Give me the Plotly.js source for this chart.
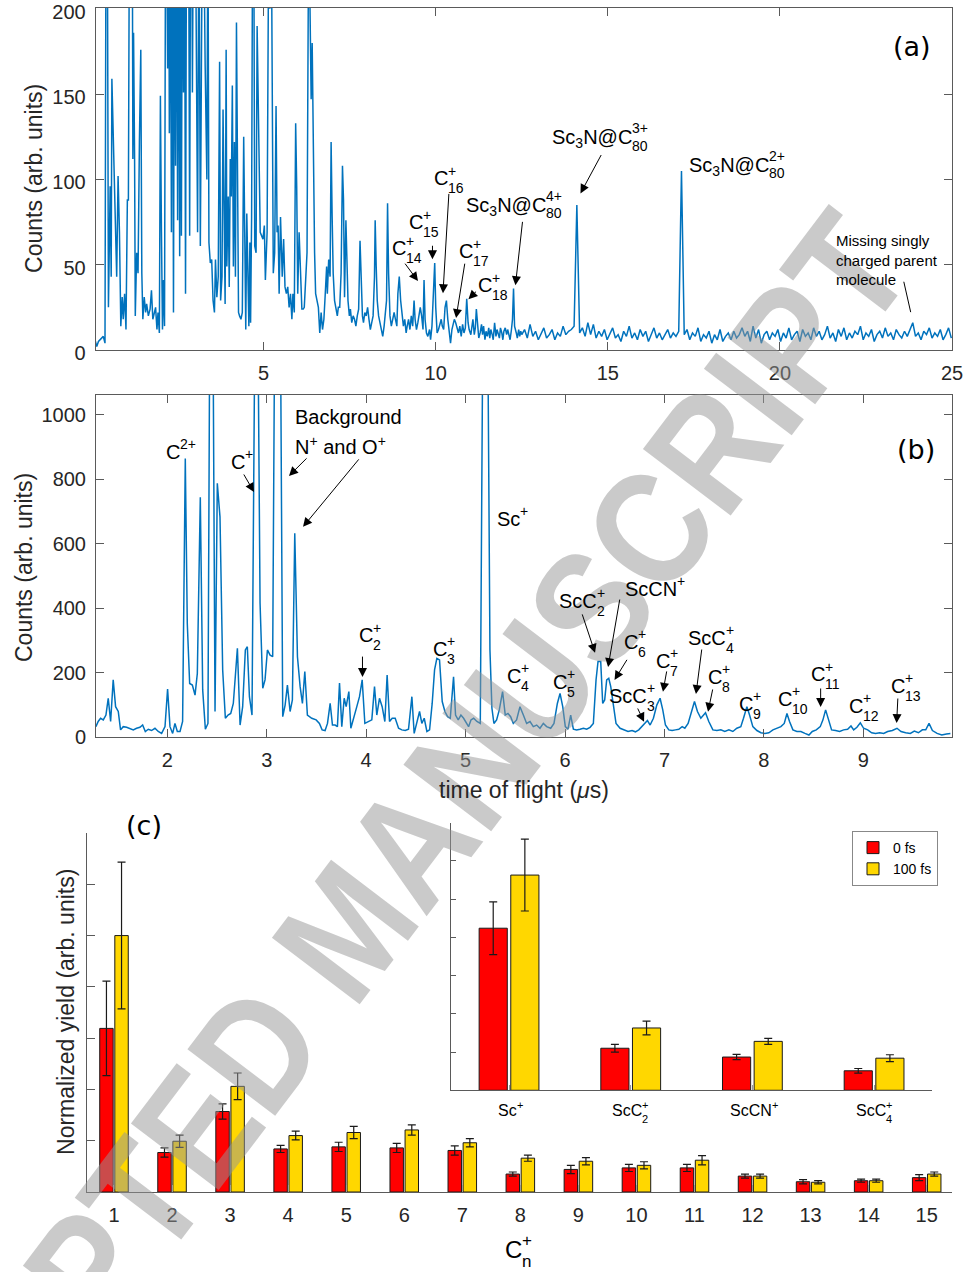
<!DOCTYPE html>
<html>
<head>
<meta charset="utf-8">
<script src="https://cdn.plot.ly/plotly-3.0.1.min.js"></script>
<style>
html,body{margin:0;padding:0;background:#ffffff;}
#chart{width:966px;height:1272px;}
</style>
</head>
<body>
<div id="chart"></div>
<script>
// ---------------- DATA ----------------
// Panel (a): time of flight (us) vs counts, full range
const spectrumA = [
[0.10,6],[0.15,2],[0.20,5],[0.24,6],[0.29,7],[0.34,8],[0.39,4],[0.42,260],[0.46,240],[0.49,25],[0.54,96],[0.57,43],[0.59,159],[0.65,108],[0.69,59],[0.73,43],[0.77,102],[0.81,69],[0.85,14],[0.89,31],[0.92,18],[0.96,33],[1.00,12],[1.04,88],[1.07,88],[1.10,260],[1.14,230],[1.18,280],[1.20,112],[1.22,186],[1.25,112],[1.27,20],[1.31,57],[1.35,45],[1.39,122],[1.43,176],[1.46,45],[1.49,18],[1.53,31],[1.57,22],[1.60,27],[1.65,20],[1.70,24],[1.74,35],[1.78,18],[1.82,22],[1.86,25],[1.90,12],[1.93,22],[1.97,10],
[2.00,149],[2.03,69],[2.06,12],[2.09,41],[2.12,14],[2.15,260],[2.18,250],[2.21,165],[2.24,270],[2.26,127],[2.29,260],[2.32,69],[2.35,280],[2.38,22],[2.41,260],[2.44,108],[2.47,270],[2.50,76],[2.53,260],[2.56,55],[2.59,250],[2.61,67],[2.64,270],[2.67,151],[2.70,260],[2.73,33],[2.76,270],[2.79,260],[2.82,250],[2.85,67],[2.88,280],[2.91,260],[2.93,151],[2.96,270],[2.99,260],[3.02,250],[3.08,69],[3.12,270],[3.16,61],[3.19,161],[3.22,260],[3.26,250],[3.30,167],[3.35,100],[3.38,260],[3.41,63],[3.45,51],[3.49,53],[3.53,29],[3.57,22],[3.60,53],[3.64,31],[3.68,43],[3.72,169],[3.75,29],[3.79,43],[3.82,141],[3.85,65],[3.88,27],[3.91,176],[3.93,49],[3.97,90],
[4.00,37],[4.03,112],[4.06,90],[4.09,155],[4.12,49],[4.15,122],[4.18,43],[4.21,192],[4.24,73],[4.27,22],[4.30,20],[4.34,18],[4.38,22],[4.42,125],[4.45,69],[4.48,12],[4.51,80],[4.54,49],[4.57,14],[4.60,63],[4.62,16],[4.65,78],[4.68,260],[4.71,270],[4.74,61],[4.78,57],[4.81,190],[4.90,69],[4.98,65],
[5.02,73],[5.05,41],[5.10,69],[5.15,260],[5.18,200],[5.22,260],[5.28,45],[5.32,57],[5.36,143],[5.39,69],[5.42,73],[5.45,33],[5.49,78],[5.51,65],[5.54,43],[5.58,65],[5.62,37],[5.66,33],[5.70,37],[5.74,25],[5.78,33],[5.82,18],[5.85,33],[5.89,22],[5.93,133],[5.96,96],[5.99,33],
[6.03,69],[6.07,43],[6.11,24],[6.15,24],[6.18,25],[6.22,41],[6.26,57],[6.31,260],[6.35,180],[6.38,147],[6.41,180],[6.44,104],[6.48,57],[6.51,33],[6.55,29],[6.59,25],[6.63,10],[6.67,22],[6.71,12],[6.75,18],[6.79,33],[6.83,49],[6.85,33],[6.89,53],[6.93,43],[6.96,122],[6.99,78],
[7.02,45],[7.06,29],[7.10,24],[7.14,20],[7.17,25],[7.21,25],[7.25,45],[7.29,108],[7.32,88],[7.35,31],[7.39,76],[7.42,49],[7.45,29],[7.49,20],[7.52,24],[7.56,16],[7.60,20],[7.64,18],[7.68,14],[7.72,20],[7.76,24],[7.80,64],[7.83,39],[7.87,20],[7.90,16],[7.94,22],[7.98,20],
[8.02,25],[8.06,18],[8.10,12],[8.14,16],[8.18,20],[8.22,43],[8.24,76],[8.27,49],[8.30,29],[8.34,20],[8.38,16],[8.42,10],[8.46,8],[8.50,14],[8.53,22],[8.57,29],[8.60,86],[8.63,45],[8.67,20],[8.71,14],[8.75,18],[8.79,22],[8.83,18],[8.87,14],[8.90,33],[8.94,43],[8.98,29],
[9.02,20],[9.06,14],[9.10,18],[9.14,10],[9.17,14],[9.21,18],[9.25,12],[9.29,20],[9.33,14],[9.37,29],[9.40,18],[9.44,12],[9.48,16],[9.51,20],[9.55,25],[9.59,20],[9.63,12],[9.66,41],[9.69,18],[9.73,10],[9.77,8],[9.82,12],[9.85,6],[9.89,14],[9.93,29],[9.97,51],
[10.00,25],[10.04,10],[10.08,12],[10.12,16],[10.16,18],[10.19,14],[10.23,12],[10.27,25],[10.31,29],[10.35,18],[10.39,10],[10.43,4],[10.47,12],[10.50,14],[10.54,18],[10.58,16],[10.62,12],[10.66,10],[10.70,14],
[10.74,8],[10.78,15],[10.82,10],[10.86,13],[10.90,30],[10.94,16],[10.97,12],[11.02,9],[11.05,14],[11.08,18],[11.12,9],[11.15,13],[11.18,24],[11.22,12],[11.25,7],[11.29,10],[11.33,15],[11.36,9],[11.39,14],[11.43,6],[11.46,11],[11.50,8],[11.54,13],[11.57,7],[11.60,12],[11.64,9],[11.67,6],[11.71,16],[11.75,8],[11.78,12],[11.81,10],[11.85,7],[11.88,13],[11.92,10],[11.95,6],[11.98,11],
[12.02,13],[12.06,9],[12.09,12],[12.13,8],[12.16,6],[12.20,12],[12.23,18],[12.26,36],[12.29,14],[12.34,10],[12.37,7],[12.41,12],[12.44,8],[12.47,11],[12.50,9]
];
// Panel (a) tail: evenly sampled from 12.50 us in 0.08 us steps
const tailStartA = 12.5;
const tailStepA = 0.08;
const tailCountsA = [
9,12,7,15,8,11,6,10,13,7, 9,12,6,10,8,14,9,11,12,14, 85,10,13,8,16,9,15,7,11,8, 12,6,10,13,7,9,5,11,8,14,
7,10,6,12,8,11,5,9,13,7, 10,6,9,12,7,10,8,11,105,9, 12,6,10,8,13,5,9,7,11,4, 9,6,12,5,8,10,6,11,7,9,
13,8,11,5,14,7,12,4,9,11, 6,10,8,12,5,10,7,13,6,9, 11,5,12,8,10,6,13,8,11,6, 9,14,7,10,5,12,8,13,6,10,
7,11,9,14,6,10,8,12,5,9, 11,7,13,8,10,6,12,9,7,11, 8,12,16,8,10,6,11,9,13,7, 10,8,12,6,9,13,7
];

// Panel (b): time of flight (us) vs counts, zoom 1.3 - 9.9 us
const spectrumB = [
[1.282,33],[1.305,49],[1.329,59],[1.356,54],[1.383,69],[1.406,121],[1.430,49],[1.456,178],[1.480,95],[1.507,80],[1.530,23],[1.557,33],[1.591,31],[1.624,28],[1.658,23],[1.691,28],[1.725,31],[1.752,38],[1.779,18],[1.809,25],[1.842,21],[1.876,28],[1.909,18],[1.943,12],[1.977,33],
[2.003,150],[2.027,33],[2.054,12],[2.077,43],[2.101,18],[2.128,18],[2.154,49],[2.181,865],[2.201,354],[2.225,167],[2.252,162],[2.279,131],[2.302,198],[2.332,745],[2.356,147],[2.383,25],[2.409,43],[2.430,1500],[2.456,1500],[2.480,80],[2.503,788],[2.530,684],[2.557,209],[2.584,59],[2.611,69],[2.638,74],[2.664,105],[2.705,276],[2.732,38],[2.758,95],[2.785,271],[2.805,281],[2.826,126],[2.852,69],[2.886,1500],[2.906,1500],[2.933,416],[2.960,152],[2.983,178],
[3.007,271],[3.034,255],[3.060,250],[3.084,1500],[3.107,1500],[3.134,1500],[3.161,64],[3.185,100],[3.208,162],[3.235,80],[3.258,116],[3.282,633],[3.309,250],[3.336,157],[3.359,105],[3.383,204],[3.409,69],[3.453,59],[3.497,54],[3.530,43],[3.557,23],[3.587,21],[3.611,43],[3.638,105],[3.661,38],[3.688,38],[3.711,33],[3.732,168],[3.755,33],[3.779,121],[3.799,95],[3.826,142],[3.846,28],[3.872,54],[3.906,95],[3.933,126],[3.960,178],[3.987,43],
[4.023,49],[4.057,54],[4.084,157],[4.107,69],[4.134,121],[4.161,95],[4.188,49],[4.211,193],[4.235,49],[4.262,59],[4.292,59],[4.326,28],[4.359,23],[4.393,21],[4.426,25],[4.460,126],[4.483,12],[4.510,43],[4.537,80],[4.560,43],[4.584,59],[4.611,18],[4.638,23],[4.664,105],[4.688,209],[4.711,245],[4.738,240],[4.765,111],[4.792,80],[4.819,64],[4.846,59],[4.879,188],[4.899,69],[4.926,54],[4.953,69],[4.980,59],
[5.007,43],[5.030,33],[5.054,54],[5.081,59],[5.114,49],[5.148,43],[5.178,1500],[5.218,1500],[5.245,271],[5.265,90],[5.285,43],[5.312,54],[5.339,85],[5.372,142],[5.399,69],[5.426,74],[5.453,64],[5.480,43],[5.513,54],[5.547,95],[5.581,69],[5.614,43],[5.648,49],[5.681,33],[5.715,38],[5.748,28],[5.782,43],[5.815,33],[5.856,28],[5.889,43],[5.923,105],[5.950,136],[5.977,95],
[6.003,33],[6.030,25],[6.057,69],[6.084,25],[6.117,23],[6.151,25],[6.185,28],[6.218,25],[6.252,31],[6.285,43],[6.312,178],[6.332,235],[6.359,235],[6.379,105],[6.399,116],[6.419,178],[6.440,183],[6.460,157],[6.487,95],[6.513,43],[6.554,28],[6.594,23],[6.634,18],[6.674,21],[6.708,17],[6.742,23],[6.775,33],[6.802,43],[6.829,52],[6.856,38],[6.889,59],[6.923,100],[6.956,121],[6.983,85],
[7.010,38],[7.044,23],[7.077,21],[7.111,23],[7.144,25],[7.178,33],[7.205,28],[7.238,43],[7.272,80],[7.302,111],[7.332,80],[7.366,59],[7.413,76],[7.446,49],[7.487,23],[7.527,21],[7.567,23],[7.607,18],[7.648,23],[7.688,18],[7.728,28],[7.768,33],[7.795,59],[7.829,95],[7.856,69],[7.889,33],[7.930,21],[7.970,14],
[8.010,12],[8.050,14],[8.091,23],[8.131,28],[8.171,33],[8.205,43],[8.232,74],[8.258,49],[8.292,23],[8.332,18],[8.372,18],[8.413,12],[8.453,7],[8.487,18],[8.527,23],[8.567,33],[8.594,54],[8.621,85],[8.648,54],[8.681,23],[8.721,21],[8.762,18],[8.802,23],[8.842,25],[8.876,35],[8.903,23],[8.936,31],[8.970,45],
[9.003,28],[9.044,23],[9.084,14],[9.124,12],[9.164,14],[9.205,12],[9.245,18],[9.292,21],[9.339,28],[9.379,18],[9.426,14],[9.473,12],[9.513,19],[9.554,14],[9.594,23],[9.628,23],[9.661,43],[9.695,21],[9.742,12],[9.789,7],[9.836,10],[9.876,12]
];

// Panel (c): normalized yields of C_n+ fragments
const clusterSize = [1,2,3,4,5,6,7,8,9,10,11,12,13,14,15];
const yield0fs   = [3.19,0.77,1.57,0.84,0.88,0.86,0.81,0.35,0.44,0.47,0.47,0.31,0.20,0.22,0.28];
const err0fs     = [0.92,0.09,0.15,0.07,0.09,0.09,0.09,0.04,0.08,0.07,0.07,0.04,0.04,0.03,0.06];
const yield100fs = [5.00,0.99,2.06,1.10,1.16,1.21,0.96,0.66,0.60,0.52,0.62,0.31,0.19,0.22,0.35];
const err100fs   = [1.43,0.12,0.26,0.085,0.12,0.10,0.08,0.06,0.07,0.07,0.09,0.04,0.03,0.03,0.04];

// Inset: Sc-containing fragments
const ionSpecies    = ['Sc+','ScC2+','ScCN+','ScC4+'];
const ionYield0fs   = [4.24,1.10,0.87,0.51];
const ionErr0fs     = [0.69,0.10,0.07,0.06];
const ionYield100fs = [5.63,1.63,1.28,0.84];
const ionErr100fs   = [0.94,0.18,0.08,0.09];

const seriesNames = ['0 fs','100 fs'];

// ---------------- STYLE ----------------
const FONT = 'Liberation Sans, Arial, Helvetica, sans-serif';
const PANEL_FONT = 'DejaVu Sans, Verdana, sans-serif';
const INK = '#000000';
const AXC = '#5a5a5a';
const TXT = '#262626';
const BLUE = '#0072BD';
const RED = '#FF0000';
const GOLD = '#FFD700';

function axis(o) {
  return Object.assign({
    showline: true, linecolor: AXC, linewidth: 1,
    ticks: 'inside', ticklen: 8, tickwidth: 1, tickcolor: AXC,
    showgrid: false, zeroline: false, fixedrange: true, ticklabeloverflow: 'allow',
    tickfont: {family: FONT, size: 20, color: TXT}
  }, o);
}

// ---------------- TRACES ----------------
const traces = [];
traces.push({
  type: 'scatter', mode: 'lines', xaxis: 'x', yaxis: 'y', showlegend: false,
  x: spectrumA.map(p => p[0]), y: spectrumA.map(p => p[1]),
  line: {color: BLUE, width: 1.5}, hoverinfo: 'skip'
});
traces.push({
  type: 'scatter', mode: 'lines', xaxis: 'x', yaxis: 'y', showlegend: false,
  x0: tailStartA, dx: tailStepA, y: tailCountsA,
  line: {color: BLUE, width: 1.5}, hoverinfo: 'skip'
});
traces.push({
  type: 'scatter', mode: 'lines', xaxis: 'x2', yaxis: 'y2', showlegend: false,
  x: spectrumB.map(p => p[0]), y: spectrumB.map(p => p[1]),
  line: {color: BLUE, width: 1.5}, hoverinfo: 'skip'
});

function barTrace(x, y, err, color, name, xa, ya, legend, cap) {
  return {
    type: 'bar', x: x, y: y, name: name, xaxis: xa, yaxis: ya, showlegend: legend,
    marker: {color: color, line: {color: '#1a1a1a', width: 1}},
    error_y: {type: 'data', array: err, visible: true, color: '#1a1a1a', thickness: 1.2, width: cap},
    hoverinfo: 'skip'
  };
}
traces.push(barTrace(clusterSize, yield0fs, err0fs, RED, seriesNames[0], 'x3', 'y3', false, 4));
traces.push(barTrace(clusterSize, yield100fs, err100fs, GOLD, seriesNames[1], 'x3', 'y3', false, 4));
const ionPos = ionSpecies.map((s, i) => i + 1);
traces.push(barTrace(ionPos, ionYield0fs, ionErr0fs, RED, seriesNames[0], 'x4', 'y4', true, 4));
traces.push(barTrace(ionPos, ionYield100fs, ionErr100fs, GOLD, seriesNames[1], 'x4', 'y4', true, 4));

// ---------------- ANNOTATIONS ----------------
function stacked(xref, yref, x, y, base, sup, sub, fs, dy) {
  dy = dy || 0;
  const sf = Math.round(fs * 0.7);
  const common = {xref: xref, yref: yref, x: x, y: y, showarrow: false, borderpad: 0, borderwidth: 0, yanchor: 'middle'};
  const out = [Object.assign({}, common, {text: base, xanchor: 'right', yshift: dy, font: {family: FONT, size: fs, color: INK}})];
  if (sup) out.push(Object.assign({}, common, {text: sup, xanchor: 'left', yshift: fs * 0.38, font: {family: FONT, size: sf, color: INK}}));
  if (sub) out.push(Object.assign({}, common, {text: sub, xanchor: 'left', yshift: -fs * 0.5, font: {family: FONT, size: sf, color: INK}}));
  return out;
}
function arrow(xref, yref, hx, hy, tx, ty, head) {
  return {xref: xref, yref: yref, axref: xref, ayref: yref, x: hx, y: hy, ax: tx, ay: ty,
    text: '', showarrow: true, arrowhead: head === undefined ? 2 : head, arrowsize: 1.8,
    arrowwidth: 1, arrowcolor: INK, standoff: 0, startstandoff: 0};
}
function plain(xref, yref, x, y, text, fs, opts) {
  return Object.assign({xref: xref, yref: yref, x: x, y: y, text: text, showarrow: false,
    borderpad: 0, borderwidth: 0, xanchor: 'center', yanchor: 'middle',
    font: {family: FONT, size: fs, color: INK}}, opts || {});
}

let ann = [];
// watermark (index 0, drawn first so labels stay on top)
ann.push(plain('paper', 'paper', 0.360, 0.2697, '<b>ACCEPTED MANUSCRIPT</b>', 160,
  {textangle: -52.8, font: {family: FONT, size: 160, color: 'rgba(150,150,150,0.5)'}}));

// panel (a) labels
const SC3N = 'Sc<sub>3</sub>N@C';
[
  [9.135, 59.6, 'C', '+', '14', 0], [9.63, 74.9, 'C', '+', '15', 0], [10.355, 100.6, 'C', '+', '16', 0],
  [13.20, 86, SC3N, '4+', '80', -3], [11.08, 57.9, 'C', '+', '17', 0], [11.63, 38, 'C', '+', '18', 0],
  [15.70, 125.7, SC3N, '3+', '80', -3], [19.68, 109.4, SC3N, '2+', '80', -3]
].forEach(l => { ann = ann.concat(stacked('x', 'y', l[0], l[1], l[2], l[3], l[4], 20, l[5])); });
[
  [9.484, 40.4, 9.077, 51.5], [9.905, 53.2, 9.905, 62], [10.21, 33.3, 10.384, 92.4],
  [12.316, 38, 12.525, 76], [10.59, 18.7, 10.85, 51.5], [10.95, 29.8, 11.215, 35.1],
  [14.205, 91.8, 14.83, 115.2]
].forEach(a => ann.push(arrow('x', 'y', a[0], a[1], a[2], a[3])));
ann.push(arrow('x', 'y', 23.80, 22.2, 23.59, 40.9, 0));
ann.push(plain('x', 'y', 21.63, 52.6, 'Missing singly<br>charged parent<br>molecule', 15,
  {xanchor: 'left', align: 'left', font: {family: FONT, size: 15, color: INK}}));
ann.push(plain('paper', 'paper', 0.944, 0.9638, '(a)', 27, {font: {family: PANEL_FONT, size: 27, color: INK}}));
ann.push(plain('paper', 'paper', 0.0352, 0.8593, 'Counts (arb. units)', 23, {textangle: -90, font: {family: FONT, size: 23, color: TXT}}));

// panel (b) labels
[
  [2.128, 885, 'C', '2+', ''], [2.781, 854, 'C', '+', ''], [4.069, 317, 'C', '+', '2'], [4.813, 274, 'C', '+', '3'],
  [5.548, 677, 'Sc', '+', ''], [5.558, 190, 'C', '+', '4'], [6.020, 172, 'C', '+', '5'], [6.322, 423, 'ScC', '+', '2'],
  [7.126, 460, 'ScCN', '+', ''], [6.734, 296, 'C', '+', '6'], [6.825, 128, 'ScC', '+', '3'], [7.056, 237, 'C', '+', '7'],
  [7.619, 308, 'ScC', '+', '4'], [7.579, 187, 'C', '+', '8'], [7.890, 103, 'C', '+', '9'], [8.282, 119, 'C', '+', '10'],
  [8.614, 196, 'C', '+', '11'], [8.997, 97, 'C', '+', '12'], [9.420, 159, 'C', '+', '13']
].forEach(l => { ann = ann.concat(stacked('x2', 'y2', l[0], l[1], l[2], l[3], l[4], 20, 0)); });
ann.push(plain('x2', 'y2', 3.284, 994, 'Background', 20, {xanchor: 'left'}));
ann.push(plain('x2', 'y2', 3.284, 905, 'N<sup>+</sup> and O<sup>+</sup>', 20, {xanchor: 'left'}));
[
  [2.872, 761, 2.761, 820], [3.224, 811, 3.416, 870], [3.365, 653, 3.938, 867], [3.963, 187, 3.963, 255],
  [6.302, 262, 6.168, 386], [6.433, 218, 6.553, 432], [6.498, 178, 6.632, 245], [6.795, 48, 6.724, 94],
  [6.985, 141, 7.025, 209], [7.317, 134, 7.377, 277], [7.438, 79, 7.488, 153], [8.571, 94, 8.571, 156],
  [9.335, 44, 9.348, 125]
].forEach(a => ann.push(arrow('x2', 'y2', a[0], a[1], a[2], a[3])));
ann.push(plain('paper', 'paper', 0.948, 0.647, '(b)', 27, {font: {family: PANEL_FONT, size: 27, color: INK}}));
ann.push(plain('paper', 'paper', 0.0248, 0.5542, 'Counts (arb. units)', 23, {textangle: -90, font: {family: FONT, size: 23, color: TXT}}));
ann.push(plain('paper', 'paper', 0.5424, 0.3789, 'time of flight (<i>\u03bc</i>s)', 23, {font: {family: FONT, size: 23, color: TXT}}));

// panel (c) labels
ann.push(plain('paper', 'paper', 0.149, 0.3514, '(c)', 27, {font: {family: PANEL_FONT, size: 27, color: INK}}));
ann.push(plain('paper', 'paper', 0.0683, 0.2044, 'Normalized yield (arb. units)', 23, {textangle: -90, font: {family: FONT, size: 23, color: TXT}}));
ann = ann.concat(stacked('x3', 'paper', 8.03, 0.0173, 'C', '+', 'n', 24, 0));
[
  [1.066, 'Sc', '+', ''], [2.093, 'ScC', '+', '2'], [3.161, 'ScCN', '+', ''], [4.098, 'ScC', '+', '4']
].forEach(l => { ann = ann.concat(stacked('x4', 'paper', l[0], 0.1266, l[1], l[2], l[3], 16, 0)); });

// ---------------- LAYOUT ----------------
const layout = {
  width: 966, height: 1272,
  margin: {l: 0, r: 0, t: 0, b: 0},
  paper_bgcolor: '#ffffff', plot_bgcolor: 'rgba(0,0,0,0)',
  font: {family: FONT, size: 20, color: TXT},
  barmode: 'group', bargap: 0.48, bargroupgap: 0.11,
  showlegend: true,
  legend: {x: 0.882, y: 0.3467, xanchor: 'left', yanchor: 'top', bgcolor: '#ffffff',
    bordercolor: '#888888', borderwidth: 1, font: {family: FONT, size: 14, color: INK},
    itemwidth: 30, tracegroupgap: 0},
  xaxis: axis({domain: [0.09907, 0.98551], range: [0.12, 25], tickvals: [5, 10, 15, 20, 25], anchor: 'y', mirror: 'ticks', ticklabelstandoff: 5}),
  yaxis: axis({domain: [0.72484, 0.99371], range: [0, 200.5], tickvals: [0, 50, 100, 150, 200], anchor: 'x', mirror: 'ticks', ticklabelstandoff: 5, ticklabelshift: 3}),
  xaxis2: axis({domain: [0.09938, 0.98551], range: [1.283, 9.892], tickvals: [2, 3, 4, 5, 6, 7, 8, 9], anchor: 'y2', mirror: 'ticks', ticklabelstandoff: 5}),
  yaxis2: axis({domain: [0.42037, 0.68947], range: [0, 1062], tickvals: [0, 200, 400, 600, 800, 1000], anchor: 'x2', mirror: 'ticks', ticklabelstandoff: 5}),
  xaxis3: axis({domain: [0.09006, 0.98551], range: [0.535, 15.436], tickvals: clusterSize, anchor: 'y3', ticklen: 7, tickcolor: '#999999', ticklabelstandoff: 5}),
  yaxis3: axis({domain: [0.06289, 0.34513], range: [0, 7], tickvals: [0, 1, 2, 3, 4, 5, 6, 7], anchor: 'x3', showticklabels: false}),
  xaxis4: axis({domain: [0.46687, 0.96480], range: [0.523, 4.476], tickvals: ionPos, anchor: 'y4', ticklen: 5, tickcolor: '#999999', showticklabels: false}),
  yaxis4: axis({domain: [0.14285, 0.35322], range: [0, 7], tickvals: [0, 1, 2, 3, 4, 5, 6, 7], anchor: 'x4', ticklen: 5, showticklabels: false}),
  annotations: ann
};

Plotly.newPlot('chart', traces, layout, {displayModeBar: false, staticPlot: true}).then(function (gd) {
  // the watermark lettering in the reference is condensed: narrow the first annotation's glyphs
  try {
    const wm = gd.querySelector('.annotation[data-index="0"] text.annotation-text');
    if (wm) {
      wm.setAttribute('textLength', '1740');
      wm.setAttribute('lengthAdjust', 'spacingAndGlyphs');
    }
  } catch (e) {}
});
</script>
</body>
</html>
